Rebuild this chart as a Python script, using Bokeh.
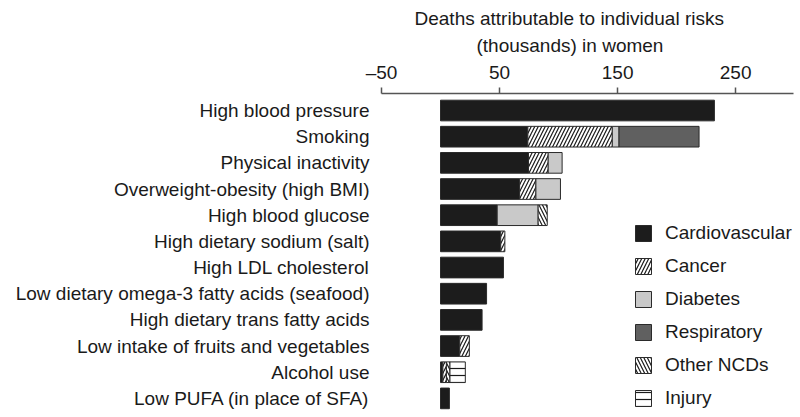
from bokeh.plotting import figure
from bokeh.models import Range1d, FixedTicker, Legend, LegendItem, Title, ColumnDataSource
from bokeh.embed import file_html
from bokeh.resources import INLINE

risks = [
    "High blood pressure",
    "Smoking",
    "Physical inactivity",
    "Overweight-obesity (high BMI)",
    "High blood glucose",
    "High dietary sodium (salt)",
    "High LDL cholesterol",
    "Low dietary omega-3 fatty acids (seafood)",
    "High dietary trans fatty acids",
    "Low intake of fruits and vegetables",
    "Alcohol use",
    "Low PUFA (in place of SFA)",
]
cardiovascular = [232, 74, 74.5, 67, 48, 51, 53.3, 39, 35.2, 16.3, 2, 7.5]
cancer = [0, 71.5, 16.7, 13.8, 0, 3.5, 0, 0, 0, 8.1, 3, 0]
diabetes = [0, 5.7, 11.8, 20.8, 34.7, 0, 0, 0, 0, 0, 0, 0]
respiratory = [0, 67.8, 0, 0, 0, 0, 0, 0, 0, 0, 0, 0]
other_ncds = [0, 0, 0, 0, 7.7, 0, 0, 0, 0, 0, 3, 0]
injury = [0, 0, 0, 0, 0, 0, 0, 0, 0, 0, 13, 0]

series_names = ["Cardiovascular", "Cancer", "Diabetes", "Respiratory", "Other NCDs", "Injury"]
series_values = [cardiovascular, cancer, diabetes, respiratory, other_ncds, injury]
series_fill = ["#1c1c1c", "white", "#c9c9c9", "#606060", "white", "white"]
series_hatch = [None, "/", None, None, "\\", "-"]

x_ticks = [-50, 50, 150, 250]

FONT = "Liberation Sans"
FS = "19px"

p = figure(width=800, height=417, output_backend="svg", toolbar_location=None,
           x_range=Range1d(-50, 299), y_range=Range1d(11.73, -0.65),
           x_axis_location="above", min_border_left=381, min_border_right=7,
           min_border_top=93, min_border_bottom=0)
p.outline_line_color = None
p.xgrid.grid_line_color = None
p.ygrid.grid_line_color = None
p.background_fill_color = "white"

ypos = list(range(len(risks)))
left = [0.0] * len(risks)
renderers = []
for name, vals, fill, hatch in zip(series_names, series_values, series_fill, series_hatch):
    right = [l + v for l, v in zip(left, vals)]
    keep = [i for i, v in enumerate(vals) if v > 0]
    src = ColumnDataSource(dict(
        y=[ypos[i] for i in keep],
        left=[left[i] for i in keep],
        right=[right[i] for i in keep],
    ))
    kw = dict(y="y", left="left", right="right", height=0.79, source=src,
              fill_color=fill, line_color="#2a2a2a", line_width=1)
    if hatch:
        kw.update(hatch_pattern=hatch, hatch_color="#1a1a1a", hatch_scale=7, hatch_weight=1.2)
    r = p.hbar(**kw)
    renderers.append((name, r))
    left = right

# x axis (top)
xa = p.xaxis[0]
xa.ticker = FixedTicker(ticks=x_ticks)
xa.major_label_overrides = {t: (("\u2013" + str(-t)) if t < 0 else str(t)) for t in x_ticks}
xa.minor_tick_line_color = None
xa.major_tick_in = 0
xa.major_tick_out = 6
xa.axis_line_color = "#555555"
xa.axis_line_width = 1.5
xa.major_tick_line_color = "#555555"
xa.major_tick_line_width = 1.5
xa.major_label_text_font = FONT
xa.major_label_text_font_size = FS
xa.major_label_text_color = "#1a1a1a"
xa.major_label_standoff = 5

# y axis (labels only)
ya = p.yaxis[0]
ya.ticker = FixedTicker(ticks=ypos)
ya.major_label_overrides = {i: r for i, r in enumerate(risks)}
ya.axis_line_color = None
ya.major_tick_line_color = None
ya.minor_tick_line_color = None
ya.major_tick_out = 0
ya.major_tick_in = 0
ya.major_label_standoff = 12
ya.major_label_text_font = FONT
ya.major_label_text_font_size = FS
ya.major_label_text_color = "#1a1a1a"

# axis title as two title lines
t2 = Title(text="(thousands) in women", align="left", offset=95,
           text_font=FONT, text_font_size=FS, text_font_style="normal",
           text_color="#1a1a1a", standoff=5)
t1 = Title(text="Deaths attributable to individual risks", align="left", offset=33,
           text_font=FONT, text_font_size=FS, text_font_style="normal",
           text_color="#1a1a1a", standoff=4)
p.add_layout(t2, "above")
p.add_layout(t1, "above")

legend = Legend(items=[LegendItem(label=n, renderers=[r]) for n, r in renderers],
                location=(252, 8), glyph_width=20, glyph_height=20, label_height=20,
                spacing=11, padding=0, margin=0, label_standoff=12,
                border_line_color=None, background_fill_alpha=0,
                label_text_font=FONT, label_text_font_size=FS, label_text_color="#1a1a1a")
p.add_layout(legend, "center")

open("out.html", "w").write(file_html(p, INLINE))
